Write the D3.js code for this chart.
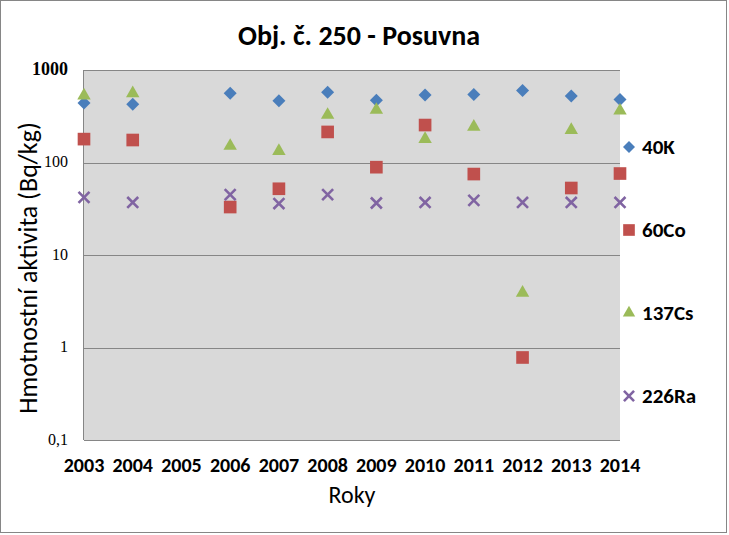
<!DOCTYPE html>
<html>
<head>
<meta charset="utf-8">
<script src="https://cdn.jsdelivr.net/npm/d3@7"></script>
<style>
  body { margin: 0; background: #fff; }
  text { font-family: Carlito, "Noto Sans", sans-serif; }
</style>
</head>
<body>
<svg id="chart"></svg>
<script>
// years and measured values (null = no measurement)
var years = [2003, 2004, 2005, 2006, 2007, 2008, 2009, 2010, 2011, 2012, 2013, 2014];
var k40   = [440, 425, null, 560, 466, 574, 470, 537, 545, 600, 525, 480];
var co60  = [179, 175, null, 33, 52, 214, 89, 254, 75, 0.78, 53, 76];
var cs137 = [530, 560, null, 151, 133, 327, 370, 179, 243, 3.9, 224, 363];
var ra226 = [42, 37, null, 45, 36, 45, 36.5, 37, 39, 37, 37, 37];
var yTicks = [0.1, 1, 10, 100, 1000];
var yTickLabels = ['0,1', '1', '10', '100', '1000'];

var width = 729, height = 535;
var margin = { left: 84, right: 109, top: 70, bottom: 95 };

var svg = d3.select('#chart')
    .attr('width', width)
    .attr('height', height);

// outer chart frame
svg.append('rect')
    .attr('x', 0.5).attr('y', 0.5)
    .attr('width', width - 3).attr('height', height - 3)
    .attr('fill', '#fff')
    .attr('stroke', '#868686');

var xScale = d3.scaleLinear()
    .domain([2003, 2014])
    .range([margin.left, width - margin.right]);

var yScale = d3.scaleLog()
    .domain([0.1, 1000])
    .range([height - margin.bottom, margin.top]);

// plot area
svg.append('rect')
    .attr('x', margin.left)
    .attr('y', margin.top)
    .attr('width', width - margin.right - margin.left)
    .attr('height', height - margin.bottom - margin.top)
    .attr('fill', '#d9d9d9');

// horizontal gridlines
svg.append('g')
    .selectAll('line')
    .data(yTicks.slice(1))
    .enter()
    .append('line')
    .attr('x1', margin.left)
    .attr('x2', width - margin.right)
    .attr('y1', function (d) { return Math.round(yScale(d)) + 0.5; })
    .attr('y2', function (d) { return Math.round(yScale(d)) + 0.5; })
    .attr('stroke', '#868686');

// left and bottom axis lines
svg.append('line')
    .attr('x1', margin.left - 0.5).attr('x2', margin.left - 0.5)
    .attr('y1', margin.top).attr('y2', height - margin.bottom)
    .attr('stroke', '#868686');
svg.append('line')
    .attr('x1', margin.left).attr('x2', width - margin.right)
    .attr('y1', height - margin.bottom + 0.5).attr('y2', height - margin.bottom + 0.5)
    .attr('stroke', '#868686');

// y tick labels (the top one is rendered larger in the original)
svg.append('g')
    .selectAll('text')
    .data(yTicks)
    .enter()
    .append('text')
    .attr('x', margin.left - 16)
    .attr('y', function (d) { return yScale(d); })
    .attr('dy', '0.3em')
    .attr('text-anchor', 'end')
    .style('font-family', '"Liberation Serif", serif')
    .style('font-size', function (d) { return d === 1000 ? '18px' : '16px'; })
    .style('font-weight', function (d) { return d === 1000 ? 'bold' : 'normal'; })
    .attr('fill', '#000')
    .text(function (d, i) { return yTickLabels[i]; });

// x tick labels
svg.append('g')
    .selectAll('text')
    .data(years)
    .enter()
    .append('text')
    .attr('x', function (d) { return xScale(d); })
    .attr('y', 472)
    .attr('text-anchor', 'middle')
    .style('font-size', '20px')
    .style('font-weight', 'bold')
    .text(function (d) { return d; });

// titles
svg.append('text')
    .attr('x', 359).attr('y', 45)
    .attr('text-anchor', 'middle')
    .style('font-size', '28px')
    .style('font-weight', 'bold')
    .text('Obj. č. 250 - Posuvna');

svg.append('text')
    .attr('x', 352).attr('y', 503)
    .attr('text-anchor', 'middle')
    .style('font-size', '24px')
    .text('Roky');

svg.append('text')
    .attr('transform', 'translate(37,268) rotate(-90)')
    .attr('text-anchor', 'middle')
    .style('font-size', '26px')
    .text('Hmotnostní aktivita (Bq/kg)');

// marker shapes
var diamond = {
    draw: function (ctx, size) {
        var r = Math.sqrt(size) / 2;
        ctx.moveTo(0, -r); ctx.lineTo(r, 0); ctx.lineTo(0, r); ctx.lineTo(-r, 0); ctx.closePath();
    }
};
var cross = {
    draw: function (ctx, size) {
        var r = Math.sqrt(size) / 2;
        ctx.moveTo(-r, -r); ctx.lineTo(r, r);
        ctx.moveTo(-r, r); ctx.lineTo(r, -r);
    }
};

var series = [
    { name: '40K', values: k40, color: '#4a7ebb', type: diamond, size: 169, legendY: 147 },
    { name: '60Co', values: co60, color: '#c0504d', type: d3.symbolSquare, size: 160, legendY: 230 },
    { name: '137Cs', values: cs137, color: '#9bbb59', type: d3.symbolTriangle, size: 78, legendY: 313 },
    { name: '226Ra', values: ra226, color: '#8064a2', type: cross, size: 120, legendY: 396 }
];

series.forEach(function (s) {
    var sym = d3.symbol().type(s.type).size(s.size);
    var pts = years.map(function (y, i) { return { year: y, v: s.values[i] }; })
        .filter(function (d) { return d.v !== null; });

    svg.append('g')
        .selectAll('path')
        .data(pts)
        .enter()
        .append('path')
        .attr('d', sym)
        .attr('transform', function (d) {
            return 'translate(' + xScale(d.year) + ',' + yScale(d.v) + ')';
        })
        .attr('fill', s.type === cross ? 'none' : s.color)
        .attr('stroke', s.type === cross ? s.color : 'none')
        .attr('stroke-width', 2.6);

    // legend entry
    var lg = svg.append('g')
        .attr('transform', 'translate(629,' + s.legendY + ')');
    lg.append('path')
        .attr('d', d3.symbol().type(s.type).size(s.size * 0.85))
        .attr('fill', s.type === cross ? 'none' : s.color)
        .attr('stroke', s.type === cross ? s.color : 'none')
        .attr('stroke-width', 2.6);
    lg.append('text')
        .attr('x', 13)
        .attr('y', 7)
        .style('font-size', '21px')
        .style('font-weight', 'bold')
        .text(s.name);
});
</script>
</body>
</html>
